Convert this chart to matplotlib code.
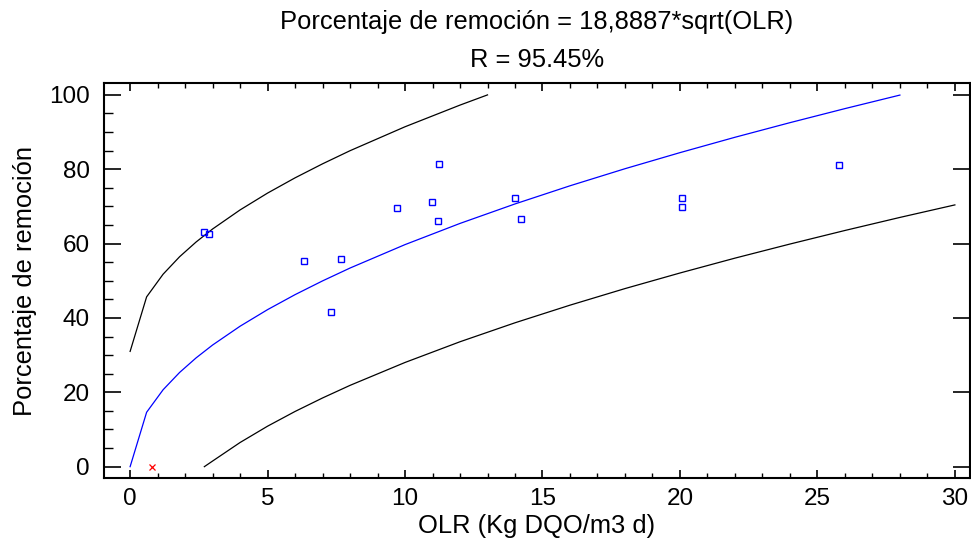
import matplotlib
matplotlib.use("Agg")
import matplotlib.pyplot as plt
from matplotlib.ticker import MultipleLocator

plt.rcParams["font.family"] = ["Liberation Sans", "DejaVu Sans"]

# observed points
olr = [2.67, 2.88, 6.33, 7.67, 7.31, 9.72, 10.97, 11.2, 11.25, 13.99, 14.22, 20.06, 20.06, 25.77]
remocion = [63.0, 62.7, 55.4, 55.8, 41.7, 69.5, 71.2, 66.1, 81.5, 72.3, 66.7, 72.3, 69.9, 81.2]

# excluded point
olr_x = [0.8]
remocion_x = [0.0]

# fitted curve
fit_x = [0, 0.6, 1.2, 1.8, 2.4, 3, 4, 5, 6, 7, 8, 10, 12, 14, 16, 18, 20, 22, 24, 26, 28]
fit_y = [0, 14.63, 20.69, 25.34, 29.26, 32.72, 37.78, 42.24, 46.27, 49.97, 53.43, 59.73,
         65.43, 70.67, 75.55, 80.14, 84.47, 88.6, 92.53, 96.31, 99.95]

# upper prediction limit
up_x = [0, 0.6, 1.2, 1.8, 2.4, 3, 4, 5, 6, 7, 8, 10, 12, 13]
up_y = [31.0, 45.67, 51.77, 56.47, 60.43, 63.93, 69.06, 73.59, 77.69, 81.46, 84.99, 91.43, 97.26, 100.0]

# lower prediction limit
lo_x = [2.7, 3, 4, 5, 6, 7, 8, 10, 12, 14, 16, 18, 20, 22, 24, 26, 28, 30]
lo_y = [0.0, 1.51, 6.5, 10.89, 14.85, 18.48, 21.87, 28.03, 33.6, 38.7, 43.44, 47.9, 52.09,
        56.09, 59.88, 63.53, 67.04, 70.41]

FS = 17.5   # tick labels
FL = 18.4   # axis labels and title

fig = plt.figure(figsize=(9.71, 5.54), dpi=100)
ax = fig.add_axes([104 / 971, 1 - 478 / 554, 866 / 971, 395 / 554])

ax.plot(fit_x, fit_y, color="#0000ff", lw=0.9)
ax.plot(up_x, up_y, color="black", lw=0.9)
ax.plot(lo_x, lo_y, color="black", lw=0.9)
ax.plot(olr, remocion, ls="none", marker="s", ms=4.3, mfc="none", mec="#0000ff", mew=1.0)
ax.plot(olr_x, remocion_x, ls="none", marker="x", ms=4.5, color="red", mew=0.9)

ax.set_xlim(-0.95, 30.55)
ax.set_ylim(-3.05, 103.2)
ax.xaxis.set_major_locator(MultipleLocator(5))
ax.xaxis.set_minor_locator(MultipleLocator(1))
ax.yaxis.set_major_locator(MultipleLocator(20))
ax.yaxis.set_minor_locator(MultipleLocator(5))

ax.tick_params(axis="x", which="major", direction="in", top=True, length=6, width=1.2,
               labelsize=FS, pad=7)
ax.tick_params(axis="x", which="minor", direction="in", top=True, length=3.5, width=1.0)
ax.tick_params(axis="y", which="major", direction="in", right=True, length=12, width=1.2,
               labelsize=FS, pad=10)
ax.tick_params(axis="y", which="minor", direction="in", right=False, length=6.5, width=1.0)
for s in ax.spines.values():
    s.set_linewidth(1.5)

ax.set_xlabel("OLR (Kg DQO/m3 d)", fontsize=FL, labelpad=3)
ax.set_ylabel("Porcentaje de remoción", fontsize=FL, labelpad=9)

cx = (104 + 970) / 2 / 971
fig.text(cx, 1 - 22 / 554, "Porcentaje de remoción = 18,8887*sqrt(OLR)", ha="center",
         va="center", fontsize=FL)
fig.text(cx, 1 - 60 / 554, "R = 95.45%", ha="center", va="center", fontsize=FL)

fig.savefig("out.png", dpi=100)
